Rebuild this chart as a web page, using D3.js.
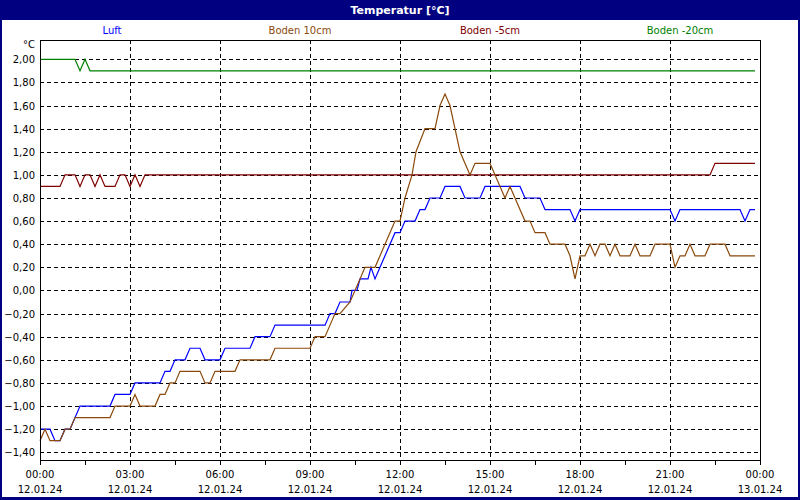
<!DOCTYPE html>
<html><head><meta charset="utf-8">
<script src="https://cdn.jsdelivr.net/npm/d3@7"></script>
<style>body{margin:0;background:#fff}svg{display:block}</style></head>
<body><svg id="c" width="800" height="500"></svg>
<script>
// time in minutes since 12.01.24 00:00
const luftT = [0,20,30,40,50,60,80,140,150,180,190,240,250,260,270,290,300,320,330,360,370,420,430,460,470,570,580,590,600,620,624,634,640,656,662,670,680,710,720,730,750,760,770,780,800,810,840,850,880,890,960,970,1000,1010,1060,1070,1080,1260,1270,1280,1400,1410,1420,1430];
const luftV = [-1.2,-1.2,-1.3,-1.3,-1.2,-1.2,-1.0,-1.0,-0.9,-0.9,-0.8,-0.8,-0.7,-0.7,-0.6,-0.6,-0.5,-0.5,-0.6,-0.6,-0.5,-0.5,-0.4,-0.4,-0.3,-0.3,-0.2,-0.2,-0.1,-0.1,0.0,0.0,0.1,0.1,0.2,0.1,0.2,0.5,0.5,0.6,0.6,0.7,0.7,0.8,0.8,0.9,0.9,0.8,0.8,0.9,0.9,0.8,0.8,0.7,0.7,0.6,0.7,0.7,0.6,0.7,0.7,0.6,0.7,0.7];
const b10T = [0,10,20,40,50,60,70,140,150,180,190,200,230,240,250,260,270,280,320,330,340,350,390,400,460,470,540,550,570,580,590,600,620,640,650,670,690,710,720,730,744,752,770,790,800,810,820,840,860,870,900,930,940,970,980,990,1010,1020,1050,1060,1070,1080,1090,1100,1110,1120,1130,1140,1150,1160,1180,1190,1200,1220,1230,1260,1270,1280,1290,1300,1310,1330,1340,1370,1380,1430];
const b10V = [-1.3,-1.2,-1.3,-1.3,-1.2,-1.2,-1.1,-1.1,-1.0,-1.0,-0.9,-1.0,-1.0,-0.9,-0.9,-0.8,-0.8,-0.7,-0.7,-0.8,-0.8,-0.7,-0.7,-0.6,-0.6,-0.5,-0.5,-0.4,-0.4,-0.3,-0.2,-0.2,-0.1,0.1,0.2,0.2,0.4,0.6,0.6,0.8,1.0,1.2,1.4,1.4,1.6,1.7,1.6,1.2,1.0,1.1,1.1,0.8,0.9,0.6,0.6,0.5,0.5,0.4,0.4,0.3,0.1,0.3,0.3,0.4,0.3,0.4,0.4,0.3,0.4,0.3,0.3,0.4,0.3,0.3,0.4,0.4,0.2,0.3,0.3,0.4,0.3,0.3,0.4,0.4,0.3,0.3];
const b5T = [0,40,50,70,80,90,100,110,120,130,150,160,170,180,190,200,210,1340,1350,1430];
const b5V = [0.9,0.9,1.0,1.0,0.9,1.0,1.0,0.9,1.0,0.9,0.9,1.0,1.0,0.9,1.0,0.9,1.0,1.0,1.1,1.1];
const b20T = [0,70,80,90,100,1430];
const b20V = [2.0,2.0,1.9,2.0,1.9,1.9];
const yTicks = [2.0,1.8,1.6,1.4,1.2,1.0,0.8,0.6,0.4,0.2,0.0,-0.2,-0.4,-0.6,-0.8,-1.0,-1.2,-1.4];
const xTickLabels = ["00:00","03:00","06:00","09:00","12:00","15:00","18:00","21:00","00:00"];
const xDateLabels = ["12.01.24","12.01.24","12.01.24","12.01.24","12.01.24","12.01.24","12.01.24","12.01.24","13.01.24"];
const seriesNames = ["Luft","Boden 10cm","Boden -5cm","Boden -20cm"];
const seriesColors = ["#0000ff","#8b4a0c","#800000","#008000"];

const svg = d3.select("#c");
const font = "Tahoma, 'DejaVu Sans', sans-serif";
svg.append("rect").attr("x",0).attr("y",0).attr("width",800).attr("height",500).attr("fill","#000080");
svg.append("rect").attr("x",2).attr("y",20).attr("width",796).attr("height",477).attr("fill","#fff");
svg.append("text").attr("x",400).attr("y",14).attr("text-anchor","middle").attr("fill","#fff")
  .attr("font-family",font).attr("font-size",11).attr("font-weight","bold").text("Temperatur [°C]");

const L=40,R=760,T=40,B=460;
const x = d3.scaleLinear().domain([0,1440]).range([L,R]);
const y = d3.scaleLinear().domain([-1.467,2.167]).range([B,T]);

const g = svg.append("g");
g.selectAll(".hg").data(yTicks).join("line").attr("x1",L).attr("x2",R)
  .attr("y1",d=>Math.round(y(d))+0.5).attr("y2",d=>Math.round(y(d))+0.5)
  .attr("stroke","#000").attr("stroke-dasharray","4,3");
const xt = d3.range(0,1441,180);
g.selectAll(".vg").data(xt.slice(1,-1)).join("line").attr("y1",T).attr("y2",B)
  .attr("x1",d=>Math.round(x(d))+0.5).attr("x2",d=>Math.round(x(d))+0.5)
  .attr("stroke","#000").attr("stroke-dasharray","4,3");
g.selectAll(".tk").data(d3.range(0,1441,90)).join("line")
  .attr("x1",d=>Math.round(x(d))+0.5).attr("x2",d=>Math.round(x(d))+0.5)
  .attr("y1",B).attr("y2",B+5).attr("stroke","#000");
g.selectAll(".yl").data(yTicks).join("text").attr("x",35).attr("y",d=>y(d)+4)
  .attr("text-anchor","end").attr("font-family",font).attr("font-size",10)
  .text(d=>d3.format(".2f")(d).replace(".",",").replace("-0,00","0,00"));
g.append("text").attr("x",35).attr("y",48).attr("text-anchor","end").attr("font-family",font).attr("font-size",10).text("°C");
g.selectAll(".xl").data(xt).join("text").attr("x",d=>x(d)).attr("y",478).attr("text-anchor","middle")
  .attr("font-family",font).attr("font-size",10).text((d,i)=>xTickLabels[i]);
g.selectAll(".xd").data(xt).join("text").attr("x",d=>x(d)).attr("y",493).attr("text-anchor","middle")
  .attr("font-family",font).attr("font-size",10).text((d,i)=>xDateLabels[i]);
const legX=[112,300,490,680];
seriesNames.forEach((n,i)=>g.append("text").attr("x",legX[i]).attr("y",34).attr("text-anchor","middle")
  .attr("font-family",font).attr("font-size",10).attr("fill",seriesColors[i]).text(n));
const line = d3.line().x(d=>x(d[0])).y(d=>y(d[1]));
const sets=[[b20T,b20V],[b5T,b5V],[luftT,luftV],[b10T,b10V]];
const cols=[seriesColors[3],seriesColors[2],seriesColors[0],seriesColors[1]];
sets.forEach((s,i)=>g.append("path").attr("d",line(s[0].map((t,j)=>[t,s[1][j]])))
  .attr("fill","none").attr("stroke",cols[i]).attr("stroke-width",1.2));
g.append("rect").attr("x",L+0.5).attr("y",T+0.5).attr("width",R-L).attr("height",B-T)
  .attr("fill","none").attr("stroke","#000");
</script></body></html>
